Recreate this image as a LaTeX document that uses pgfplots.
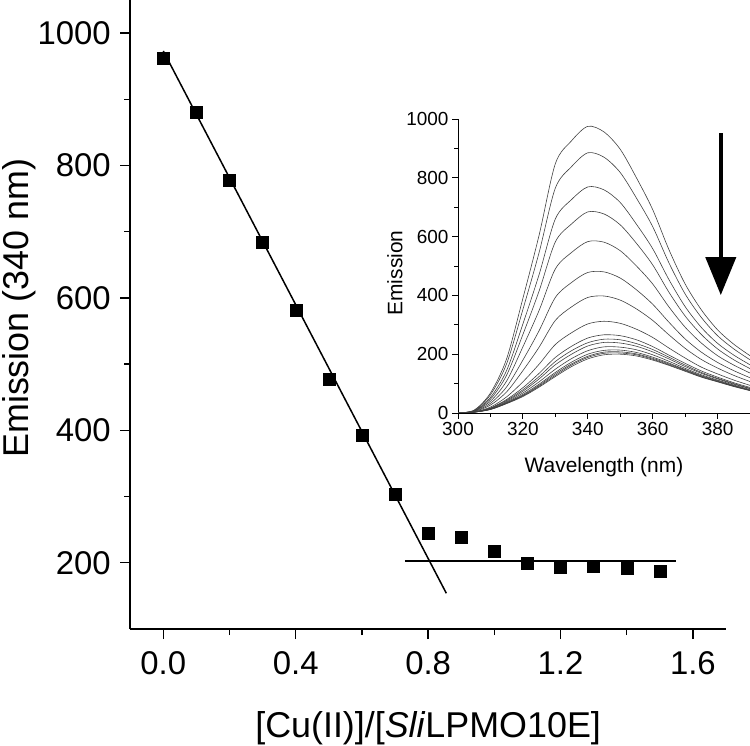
\documentclass[border=0pt]{standalone}
\usepackage{fontspec}
\setmainfont{Liberation Sans}
\usepackage{pgfplots}
\usepackage{pgfplotstable}
\pgfplotsset{compat=1.18}
\usetikzlibrary{arrows.meta}

\pgfplotstableread{
wl c1 c2 c3 c4 c5 c6 c7 c8 c9 c10 c11 c12 c13 c14 c15 c16
300 0 0 0 0 0 0 0 0 0 0 0 0 0 0 0 0
305 10 9 8 7 7 6 5 4 4 3 3 3 3 3 3 3
310 68 62 53 47 40 33 27 20 17 16 15 14 13 13 12 12
315 185 168 145 129 109 89 72 55 46 43 40 37 35 34 33 32
320 390 352 303 267 225 180 144 106 86 79 74 68 63 60 58 56
325 605 546 471 415 349 280 224 166 135 124 116 106 98 94 91 88
330 848 765 660 582 490 393 315 233 189 175 164 149 138 133 128 124
335 926 838 726 643 546 444 361 273 227 212 200 185 173 167 163 158
340 975 885 769 684 583 478 393 303 255 239 228 212 200 193 189 184
345 956 870 759 677 581 480 398 312 266 251 240 225 213 207 203 198
350 897 818 716 640 552 459 384 305 263 249 238 224 214 208 204 200
355 800 731 642 577 500 419 354 285 249 236 227 215 206 201 198 194
360 692 634 559 504 439 370 315 257 226 216 208 198 190 186 183 180
365 556 511 454 411 361 309 266 221 197 190 184 176 170 167 164 162
370 439 405 362 330 292 252 220 187 169 163 158 152 148 146 144 142
375 351 325 291 267 238 207 182 156 143 138 135 130 127 125 123 122
380 283 263 237 218 195 172 153 133 122 118 116 112 110 108 107 106
385 234 218 197 181 163 144 128 112 103 100 98 95 93 92 91 90
390 195 181 164 151 136 120 107 94 87 84 83 80 78 77 77 76
}\spectra

\begin{document}
\begin{tikzpicture}
\useasboundingbox (0,0) rectangle (750bp,746bp);
% main axis
\begin{axis}[
  at={(130.2bp,117bp)}, anchor=south west,
  scale only axis, width=595.8bp, height=629bp,
  xmin=-0.1, xmax=1.7, ymin=100, ymax=1050,
  axis x line=bottom, axis y line=left,
  axis line style={-, line width=1.4bp, black},
  tick align=outside, tick style={line width=1.4bp, black},
  major tick length=10bp, minor tick length=6bp,
  xtick={0,0.4,0.8,1.2,1.6}, minor x tick num=1,
  ytick={200,400,600,800,1000}, minor y tick num=1,
  /pgf/number format/1000 sep={},
  /pgf/number format/assume math mode=true,
  ticklabel style={font=\fontsize{33}{38}\selectfont},
  xticklabel style={/pgf/number format/fixed, /pgf/number format/fixed zerofill, /pgf/number format/precision=1, yshift=-9bp},
  yticklabel style={xshift=-6bp},
  label style={font=\fontsize{36}{43}\selectfont},
  xlabel={[Cu(II)]/[\textit{Sli}LPMO10E]},
  ylabel={Emission (340 nm)},
  xlabel style={at={(axis description cs:0.5,-0.158)}, anchor=center},
  ylabel style={at={(axis description cs:-0.187,0.51)}, anchor=center},
]
\addplot[only marks, mark=square*, mark size=6bp, black] coordinates {
(0,962) (0.1,881) (0.2,778) (0.3,684) (0.4,582) (0.5,478) (0.6,392) (0.7,303)
(0.8,245) (0.9,238) (1.0,217) (1.1,200) (1.2,194) (1.3,195) (1.4,192) (1.5,188)};
\addplot[black, line width=1.5bp] coordinates {(0,973) (0.855,154)};
\addplot[black, line width=1.5bp] coordinates {(0.73,203) (1.55,203)};
\end{axis}
% inset
\begin{axis}[
  at={(458bp,333bp)}, anchor=south west,
  scale only axis, width=292bp, height=294bp,
  xmin=300, xmax=390, ymin=0, ymax=1000,
  axis x line=bottom, axis y line=left,
  axis line style={-, line width=0.9bp, black},
  tick align=outside, tick style={line width=0.9bp, black},
  major tick length=6bp, minor tick length=4bp,
  xtick={300,320,340,360,380}, minor x tick num=1,
  ytick={0,200,400,600,800,1000}, minor y tick num=1,
  /pgf/number format/1000 sep={},
  /pgf/number format/assume math mode=true,
  ticklabel style={font=\fontsize{19}{23}\selectfont},
  label style={font=\fontsize{21}{25}\selectfont},
  xlabel={Wavelength (nm)}, ylabel={Emission},
  xlabel style={at={(axis description cs:0.5,-0.184)}, anchor=center},
  ylabel style={at={(axis description cs:-0.216,0.476)}, anchor=center},
]
\pgfplotsinvokeforeach{1,...,16}{
  \addplot[black!75, line width=0.6bp, smooth, tension=0.5] table[x=wl, y=c#1] {\spectra};
}
\draw[line width=4bp, -{Triangle[width=30bp,length=38bp]}] (axis cs:381,952) -- (axis cs:381,401);
\end{axis}
\end{tikzpicture}
\end{document}
